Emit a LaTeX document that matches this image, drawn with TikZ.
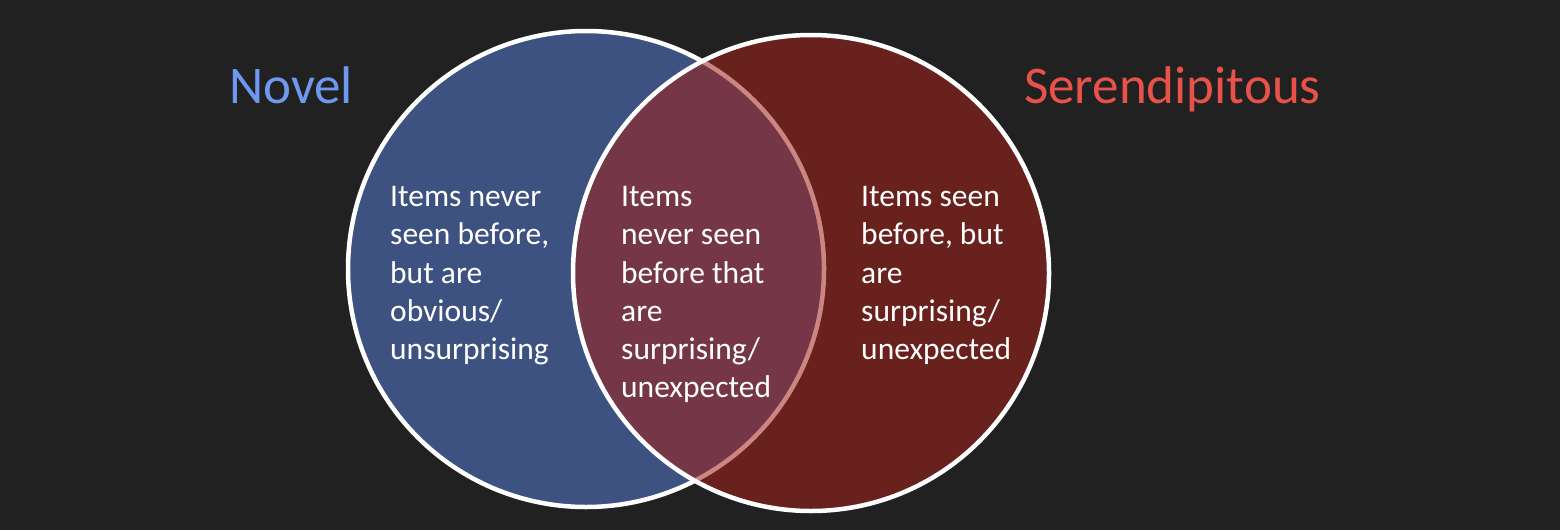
\documentclass[tikz,border=0pt]{standalone}
\usepackage{fontspec}
\setmainfont{Carlito}
\usetikzlibrary{backgrounds}
\definecolor{bgdark}{RGB}{33,33,33}
\definecolor{novelfill}{RGB}{61,82,128}
\definecolor{serenfill}{RGB}{163,34,27}
\definecolor{noveltext}{RGB}{111,152,240}
\definecolor{serentext}{RGB}{233,82,74}
\tikzset{
	setlabel/.style={font=\fontsize{53}{64}\selectfont, anchor=base west, inner sep=0pt},
	regiontext/.style={font=\fontsize{31.5}{38.3}\selectfont, text=white, align=left, anchor=north west, inner sep=0pt},
	setcircle/.style={line width=4.5pt, draw=white}
}

\begin{document}
\begin{tikzpicture}[x=1pt,y=-1pt]
		\fill[bgdark] (0,0) rectangle (1560,530);
		\useasboundingbox (0,0) rectangle (1560,530);
		
		\coordinate (cn) at (586,269);
		\coordinate (cs) at (811,273);
		\draw[setcircle, fill=novelfill] (cn) circle [radius=238pt];
		\draw[setcircle, fill=serenfill, fill opacity=0.55] (cs) circle [radius=238pt];
		
		\node(novel) [setlabel, text=noveltext] at (229,103) {Novel};
		\node(seren) [setlabel, text=serentext] at (1024,103) {Serendipitous};
		
		\node(onlyn) [regiontext] at (390,186) {Items never\\seen before,\\but are\\obvious/\\unsurprising};
		\node(both) [regiontext] at (621,186) {Items\\never seen\\before that\\are\\surprising/\\unexpected};
		\node(onlys) [regiontext] at (861,186) {Items seen\\before, but\\are\\surprising/\\unexpected};
\end{tikzpicture}
\end{document}
